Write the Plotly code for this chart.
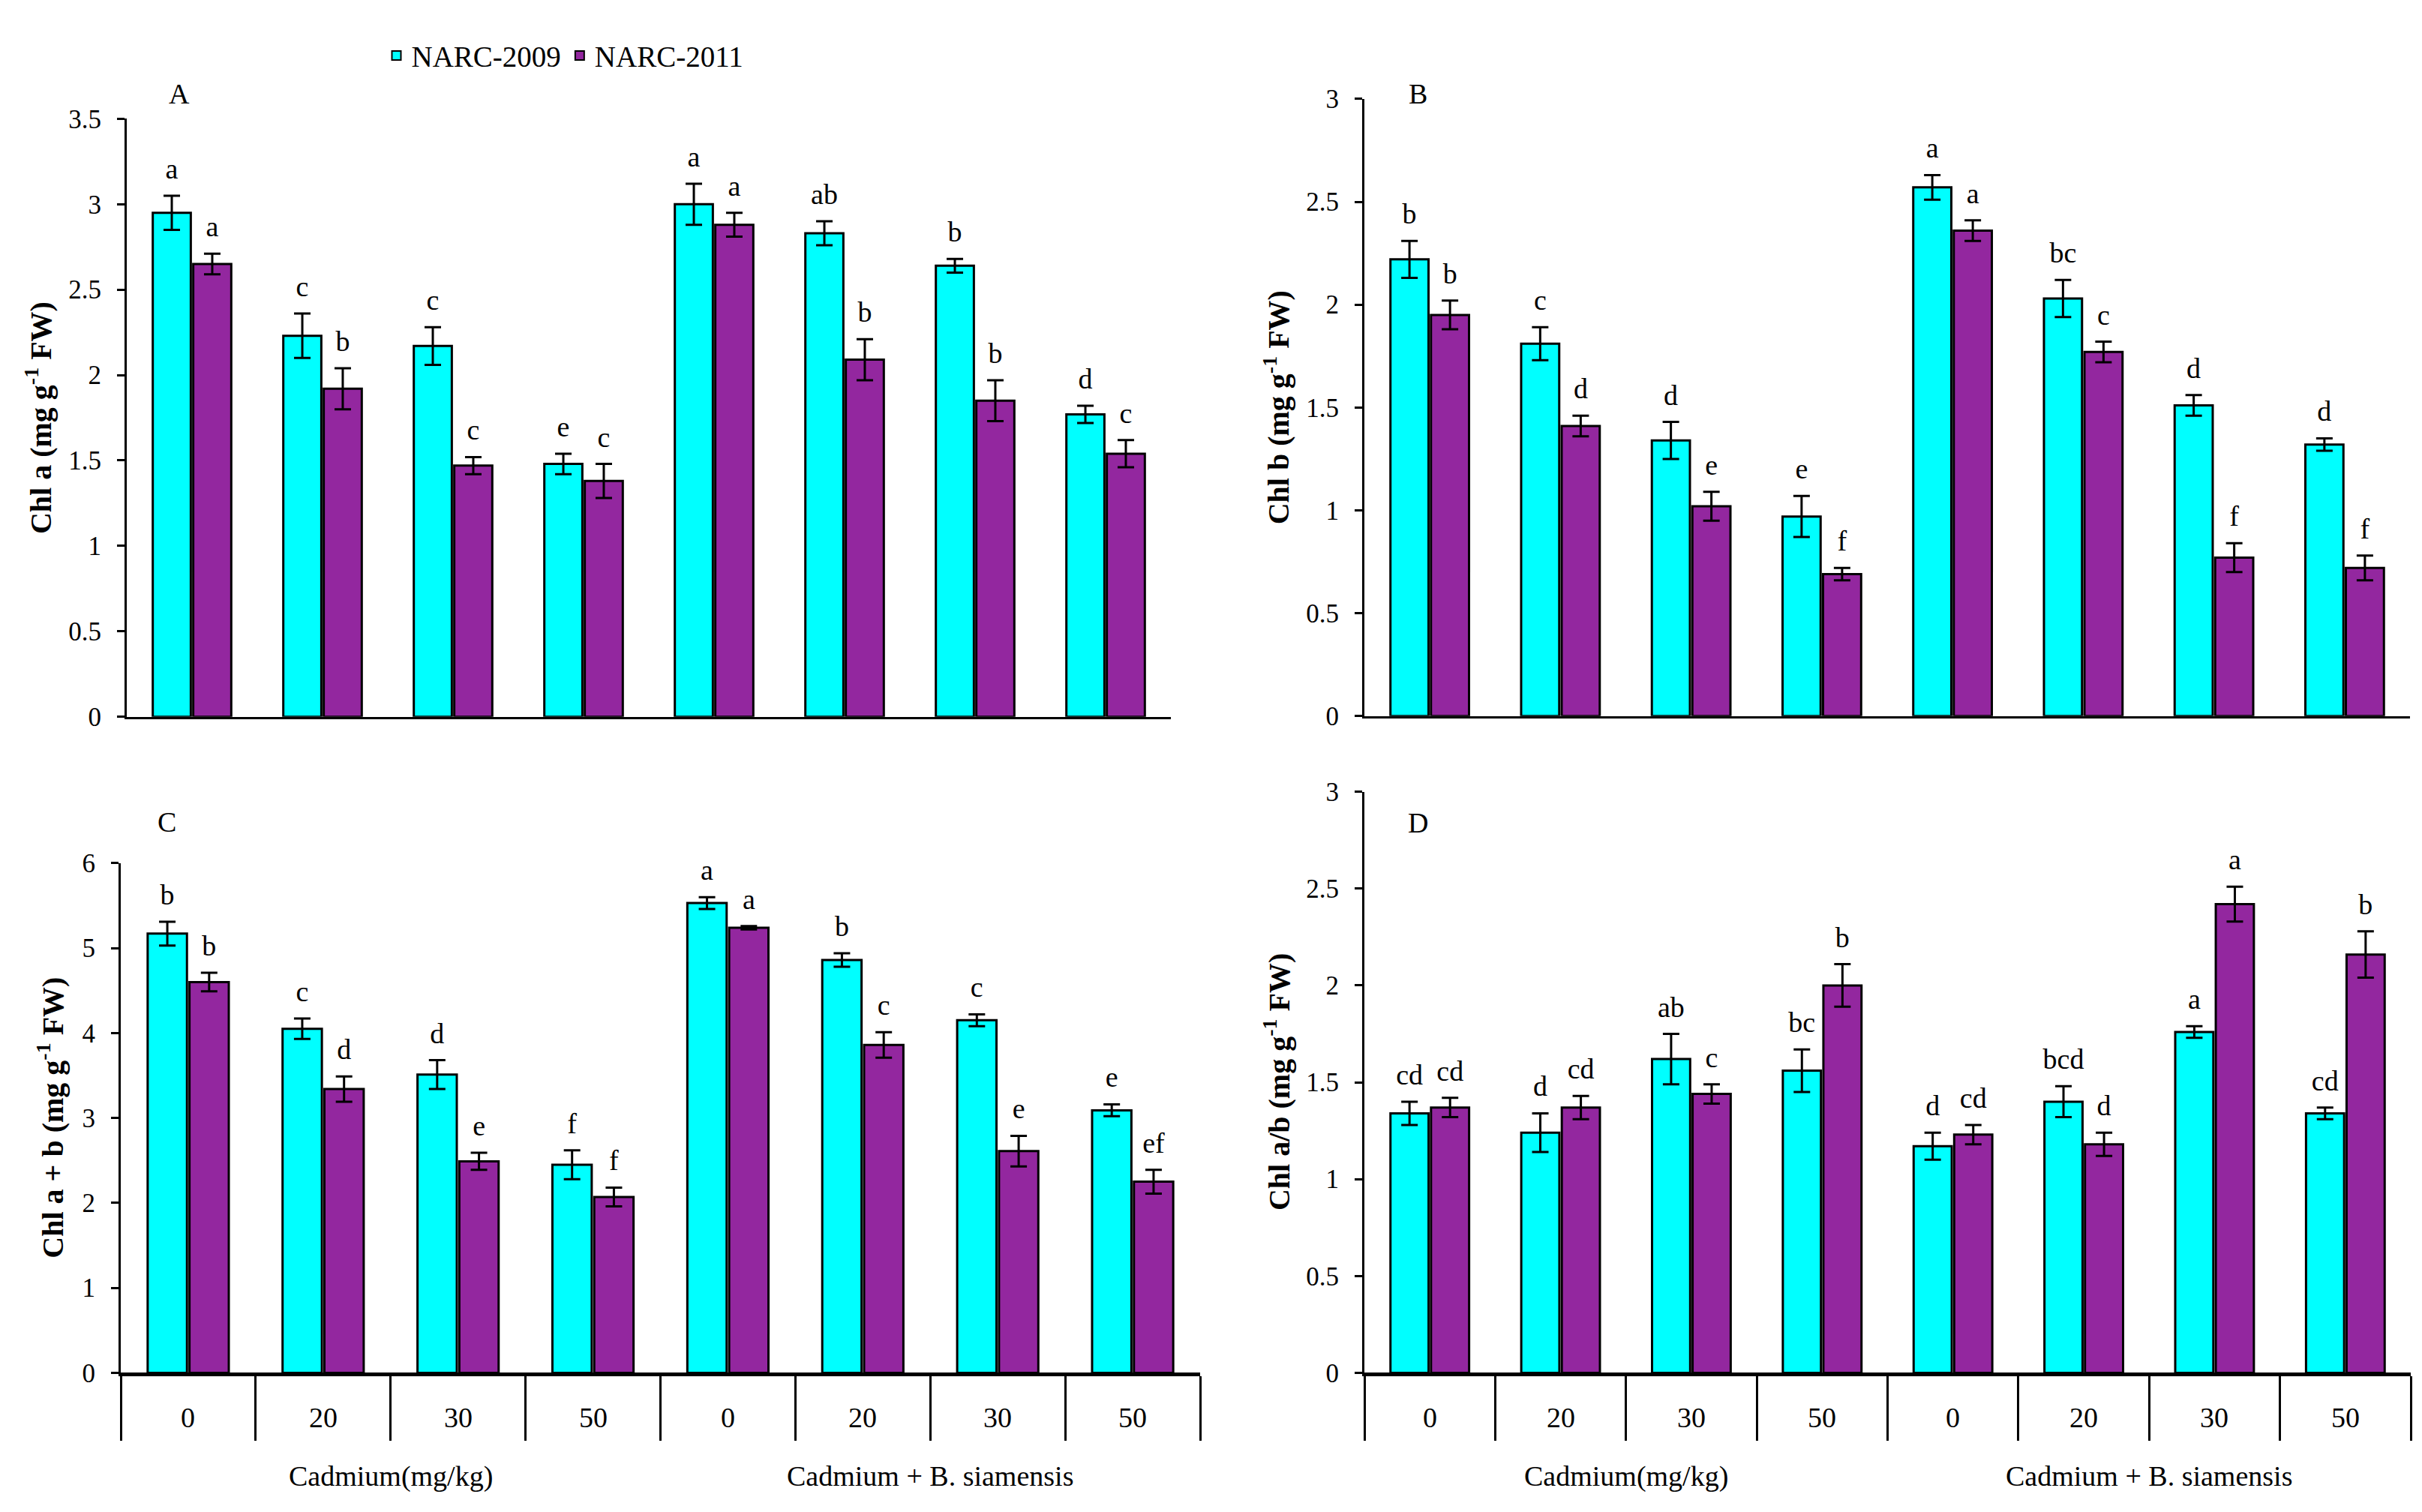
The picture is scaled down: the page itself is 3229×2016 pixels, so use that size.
import plotly.graph_objects as go

W, H = 3229, 2016

groups = ["Cadmium(mg/kg)", "Cadmium + B. siamensis"]
doses = ["0", "20", "30", "50"]
series_names = ["NARC-2009", "NARC-2011"]
colors = ["#00FFFF", "#93279F"]

# Panel A: Chl a
a_2009 = [2.95, 2.23, 2.17, 1.48, 3.00, 2.83, 2.64, 1.77]
a_2009_err = [0.10, 0.13, 0.11, 0.06, 0.12, 0.07, 0.04, 0.05]
a_2011 = [2.65, 1.92, 1.47, 1.38, 2.88, 2.09, 1.85, 1.54]
a_2011_err = [0.06, 0.12, 0.05, 0.10, 0.07, 0.12, 0.12, 0.08]
a_2009_let = ["a", "c", "c", "e", "a", "ab", "b", "d"]
a_2011_let = ["a", "b", "c", "c", "a", "b", "b", "c"]

# Panel B: Chl b
b_2009 = [2.22, 1.81, 1.34, 0.97, 2.57, 2.03, 1.51, 1.32]
b_2009_err = [0.09, 0.08, 0.09, 0.10, 0.06, 0.09, 0.05, 0.03]
b_2011 = [1.95, 1.41, 1.02, 0.69, 2.36, 1.77, 0.77, 0.72]
b_2011_err = [0.07, 0.05, 0.07, 0.03, 0.05, 0.05, 0.07, 0.06]
b_2009_let = ["b", "c", "d", "e", "a", "bc", "d", "d"]
b_2011_let = ["b", "d", "e", "f", "a", "c", "f", "f"]

# Panel C: Chl a + b
c_2009 = [5.17, 4.05, 3.51, 2.45, 5.53, 4.86, 4.15, 3.09]
c_2009_err = [0.14, 0.12, 0.17, 0.17, 0.07, 0.08, 0.07, 0.07]
c_2011 = [4.60, 3.34, 2.49, 2.07, 5.24, 3.86, 2.61, 2.25]
c_2011_err = [0.11, 0.15, 0.10, 0.11, 0.02, 0.15, 0.18, 0.14]
c_2009_let = ["b", "c", "d", "f", "a", "b", "c", "e"]
c_2011_let = ["b", "d", "e", "f", "a", "c", "e", "ef"]

# Panel D: Chl a/b
d_2009 = [1.34, 1.24, 1.62, 1.56, 1.17, 1.40, 1.76, 1.34]
d_2009_err = [0.06, 0.10, 0.13, 0.11, 0.07, 0.08, 0.03, 0.03]
d_2011 = [1.37, 1.37, 1.44, 2.00, 1.23, 1.18, 2.42, 2.16]
d_2011_err = [0.05, 0.06, 0.05, 0.11, 0.05, 0.06, 0.09, 0.12]
d_2009_let = ["cd", "d", "ab", "bc", "d", "bcd", "a", "cd"]
d_2011_let = ["cd", "cd", "c", "b", "cd", "d", "a", "b"]

panel_letters = ["A", "B", "C", "D"]
y_titles = ["Chl a (mg g<sup>-1</sup> FW)", "Chl b (mg g<sup>-1</sup> FW)",
            "Chl a + b (mg g<sup>-1</sup> FW)", "Chl a/b (mg g<sup>-1</sup> FW)"]
y_max = [3.5, 3.0, 6.0, 3.0]
y_dtick = [0.5, 0.5, 1.0, 0.5]

cats = [f"{g}|{d}" for g in groups for d in doses]
cat_dose = [d for g in groups for d in doses]

panels = [
    (a_2009, a_2009_err, a_2011, a_2011_err, a_2009_let, a_2011_let),
    (b_2009, b_2009_err, b_2011, b_2011_err, b_2009_let, b_2011_let),
    (c_2009, c_2009_err, c_2011, c_2011_err, c_2009_let, c_2011_let),
    (d_2009, d_2009_err, d_2011, d_2011_err, d_2009_let, d_2011_let),
]

# layout boxes in pixels: (left, right, top, bottom)
boxes = [(161, 1553, 134, 947), (1811, 3205, 107, 946),
         (153, 1592, 1146, 1839), (1811, 3206, 1049, 1839)]
letter_pos = [(231, 100), (1882, 100), (214, 1090), (1882, 1091)]
ytitle_x = [43, 1694, 60, 1694]

SERIF = "Liberation Serif"
fig = go.Figure()

for i, (v1, e1, v2, e2, l1, l2) in enumerate(panels):
    xa = "x" if i == 0 else f"x{i+1}"
    ya = "y" if i == 0 else f"y{i+1}"
    for s, (vals, errs, lets) in enumerate([(v1, e1, l1), (v2, e2, l2)]):
        fig.add_trace(go.Bar(
            x=cats, y=vals, name=series_names[s], legendgroup=series_names[s],
            showlegend=(i == 0), offsetgroup=str(s), alignmentgroup="g",
            marker=dict(color=colors[s], line=dict(color="black", width=3)),
            error_y=dict(type="data", array=errs, color="black", thickness=3, width=11),
            xaxis=xa, yaxis=ya,
        ))
        fig.add_trace(go.Scatter(
            x=cats, y=[v + e for v, e in zip(vals, errs)], text=lets,
            mode="markers+text", textposition="top center",
            marker=dict(size=20, color="rgba(0,0,0,0)"),
            textfont=dict(family=SERIF, size=38, color="black"),
            offsetgroup=str(s), alignmentgroup="t", showlegend=False,
            hoverinfo="skip", xaxis=xa, yaxis=ya,
        ))

layout = dict(
    width=W, height=H, margin=dict(l=0, r=0, t=0, b=0),
    paper_bgcolor="white", plot_bgcolor="white",
    barmode="group", bargap=0.38, bargroupgap=0.06,
    scattermode="group", scattergap=0.38,
    font=dict(family=SERIF, color="black", size=34),
    legend=dict(orientation="h", x=0.155, xanchor="left", y=1 - 48 / H, yanchor="middle",
                font=dict(family=SERIF, size=39), bgcolor="rgba(0,0,0,0)",
                itemsizing="constant"),
)

annotations = []
shapes = []
for i in range(4):
    l, r, t, b = boxes[i]
    xk = "xaxis" if i == 0 else f"xaxis{i+1}"
    yk = "yaxis" if i == 0 else f"yaxis{i+1}"
    xa = "x" if i == 0 else f"x{i+1}"
    ya = "y" if i == 0 else f"y{i+1}"
    bottom = i >= 2
    layout[xk] = dict(
        domain=[l / W, r / W], anchor=ya, type="category",
        categoryorder="array", categoryarray=cats,
        showline=True, linecolor="black", linewidth=5 if bottom else 3,
        showgrid=False, zeroline=False, showticklabels=False,
        ticks="outside" if bottom else "", tickson="boundaries",
        ticklen=86, tickwidth=3, tickcolor="black",
        range=[-0.5, 7.5], fixedrange=True,
    )
    layout[yk] = dict(
        domain=[1 - b / H, 1 - t / H], anchor=xa,
        range=[0, y_max[i]], dtick=y_dtick[i], tick0=0,
        showline=True, linecolor="black", linewidth=3,
        ticks="outside", ticklen=10, tickwidth=3, tickcolor="black",
        showgrid=False, zeroline=False,
        tickfont=dict(family=SERIF, size=35), ticklabelstandoff=14,
    )
    # panel letter
    annotations.append(dict(
        text=panel_letters[i], xref="paper", yref="paper",
        x=letter_pos[i][0] / W, y=1 - letter_pos[i][1] / H,
        xanchor="center", yanchor="middle", showarrow=False,
        font=dict(family=SERIF, size=38)))
    # y title
    annotations.append(dict(
        text="<b>" + y_titles[i] + "</b>", xref="paper", yref="paper",
        x=ytitle_x[i] / W, y=1 - (t + b) / 2 / H, textangle=-90,
        xanchor="center", yanchor="middle", showarrow=False,
        font=dict(family=SERIF, size=40)))
    if bottom:
        for c, d in zip(cats, cat_dose):
            annotations.append(dict(
                text=d, xref=xa, yref=ya, x=c, y=0, yshift=-60,
                xanchor="center", yanchor="middle", showarrow=False,
                font=dict(family=SERIF, size=38)))
        for gi, g in enumerate(groups):
            annotations.append(dict(
                text=g, xref=xa, yref=ya, x=gi * 4 + 1.5, y=0, yshift=-138,
                xanchor="center", yanchor="middle", showarrow=False,
                font=dict(family=SERIF, size=38)))
        for bx in [-0.5, 3.5, 7.5]:
            shapes.append(dict(
                type="line", xref=xa, yref=ya, x0=bx, x1=bx,
                ysizemode="pixel", yanchor=0, y0=0, y1=-163,
                line=dict(color="black", width=3)))

layout["annotations"] = annotations
layout["shapes"] = shapes
fig.update_layout(**layout)
fig.write_html("out.html")
